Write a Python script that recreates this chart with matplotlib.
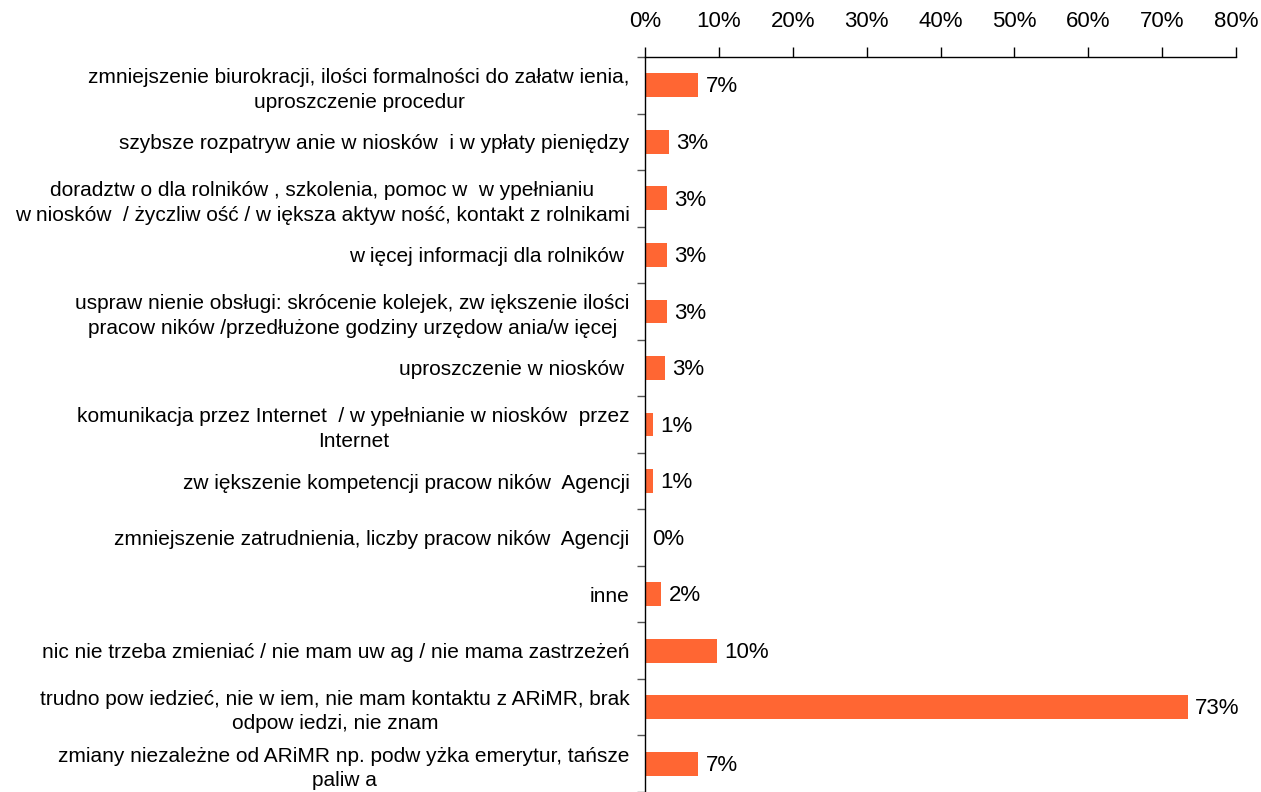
import numpy as np
import matplotlib.pyplot as plt

categories = [
    "zmniejszenie biurokracji, ilości formalności do załatw ienia,\nuproszczenie procedur",
    "szybsze rozpatryw anie w niosków  i w ypłaty pieniędzy",
    "doradztw o dla rolników , szkolenia, pomoc w  w ypełnianiu\nw niosków  / życzliw ość / w iększa aktyw ność, kontakt z rolnikami",
    "w ięcej informacji dla rolników ",
    "uspraw nienie obsługi: skrócenie kolejek, zw iększenie ilości\npracow ników /przedłużone godziny urzędow ania/w ięcej",
    "uproszczenie w niosków ",
    "komunikacja przez Internet  / w ypełnianie w niosków  przez\nInternet",
    "zw iększenie kompetencji pracow ników  Agencji",
    "zmniejszenie zatrudnienia, liczby pracow ników  Agencji",
    "inne",
    "nic nie trzeba zmieniać / nie mam uw ag / nie mama zastrzeżeń",
    "trudno pow iedzieć, nie w iem, nie mam kontaktu z ARiMR, brak\nodpow iedzi, nie znam",
    "zmiany niezależne od ARiMR np. podw yżka emerytur, tańsze\npaliw a",
]
values = [7.2, 3.2, 3.0, 3.0, 3.0, 2.7, 1.1, 1.1, 0.0, 2.2, 9.7, 73.5, 7.2]
value_labels = ["7%", "3%", "3%", "3%", "3%", "3%", "1%", "1%", "0%", "2%", "10%", "73%", "7%"]
xticks = [0, 10, 20, 30, 40, 50, 60, 70, 80]

plt.rcParams['font.family'] = ['Liberation Sans', 'DejaVu Sans']

fig = plt.figure(figsize=(12.61, 7.92), dpi=100)
ax = fig.add_axes([645 / 1261, 0, (1236 - 645) / 1261, 1 - 57 / 792])

y = np.arange(len(categories))
ax.barh(y, values, height=0.42, color='#FF6633')
ax.set_ylim(len(categories) - 0.5, -0.5)
ax.set_xlim(0, 80)

# value labels right of bars
for yi, v, lab in zip(y, values, value_labels):
    ax.text(v + 1.0, yi + 0.03, lab, va='center', ha='left', fontsize=16)

# x axis on top
ax.xaxis.tick_top()
ax.set_xticks(xticks)
ax.set_xticklabels([f"{t}%" for t in xticks], fontsize=16)
ax.tick_params(axis='x', direction='out', length=7, width=1, pad=11)

# category labels, ticks between rows
ax.set_yticks(y)
ax.set_yticklabels(categories, fontsize=15, linespacing=1.35)
for lab in ax.get_yticklabels():
    lab.set_multialignment('center')
ax.tick_params(axis='y', which='major', length=0, pad=11)
ax.set_yticks(np.arange(len(categories) + 1) - 0.5, minor=True)
ax.tick_params(axis='y', which='minor', direction='out', length=6, width=1, color='#555555')

for s in ['right', 'bottom']:
    ax.spines[s].set_visible(False)
ax.spines['top'].set_linewidth(1)
ax.spines['left'].set_linewidth(1)

fig.savefig('out.png', dpi=100)
